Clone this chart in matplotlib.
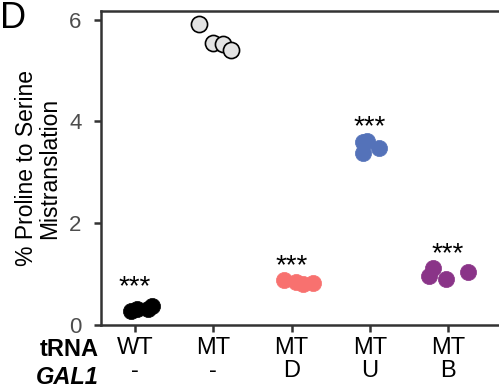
import matplotlib
matplotlib.use('Agg')
import matplotlib.pyplot as plt
import numpy as np

plt.rcParams['font.family'] = ['Liberation Sans', 'DejaVu Sans']

# data
trna = ['WT', 'MT', 'MT', 'MT', 'MT']
gal1 = ['-', '-', 'D', 'U', 'B']
wt_none = [0.27, 0.31, 0.31, 0.37]
mt_none = [5.91, 5.55, 5.53, 5.41]
mt_d = [0.89, 0.85, 0.81, 0.83]
mt_u = [3.60, 3.62, 3.37, 3.48]
mt_b = [0.96, 1.12, 0.90, 1.04]
jitter = [[-0.05, 0.03, 0.17, 0.22],
          [-0.18, 0.0, 0.13, 0.22],
          [-0.10, 0.06, 0.15, 0.27],
          [-0.09, -0.04, -0.09, 0.12],
          [-0.25, -0.19, -0.03, 0.25]]
signif = ['***', '', '***', '***', '***']

groups = [wt_none, mt_none, mt_d, mt_u, mt_b]
fills = ['black', '#E3E3E3', '#F8716F', '#5472B9', '#8A3488']
edges = ['black', 'black', '#F8716F', '#5472B9', '#8A3488']

fig = plt.figure(figsize=(4.99, 3.87), dpi=100)
ax = fig.add_axes([0.2024, 0.159, 0.7976, 0.8126])

for i, vals in enumerate(groups):
    xs = np.array(jitter[i]) + i + 1
    ax.scatter(xs, vals, s=135, c=fills[i], edgecolors=edges[i],
               linewidths=1.2 if i == 1 else 0.5, zorder=3)
    if signif[i]:
        off = 0.37 if i == 0 else 0.27
        ax.text(i + 1, max(vals) + off, signif[i], ha='center', va='center',
                fontsize=20, color='black')

ax.set_xlim(0.565, 5.65)
ax.set_ylim(-0.01, 6.17)
ax.set_yticks([0, 2, 4, 6])
ax.set_xticks(range(1, 6))
ax.set_xticklabels([a + '\n' + b for a, b in zip(trna, gal1)], linespacing=1.1)

for s in ['left', 'bottom', 'top']:
    ax.spines[s].set_color('#333333')
    ax.spines[s].set_linewidth(1.8)
ax.spines['right'].set_visible(False)

ax.tick_params(axis='y', length=5, width=1.8, color='#333333', labelsize=16,
               labelcolor='#4D4D4D', pad=9)
ax.tick_params(axis='x', length=5, width=1.8, color='#333333', labelsize=17,
               labelcolor='black', pad=3)

ax.set_ylabel('% Proline to Serine\nMistranslation', fontsize=16.5,
              linespacing=1.0, labelpad=6)

fig.text(0.198, 1 - 350 / 387, 'tRNA', ha='right', va='center', fontsize=17,
         fontweight='bold')
fig.text(0.198, 1 - 377 / 387, 'GAL1', ha='right', va='center', fontsize=17,
         fontweight='bold', fontstyle='italic')
fig.text(0.0, 1 - 19 / 387, 'D', ha='left', va='center', fontsize=26)

fig.savefig('out.png', dpi=100)
